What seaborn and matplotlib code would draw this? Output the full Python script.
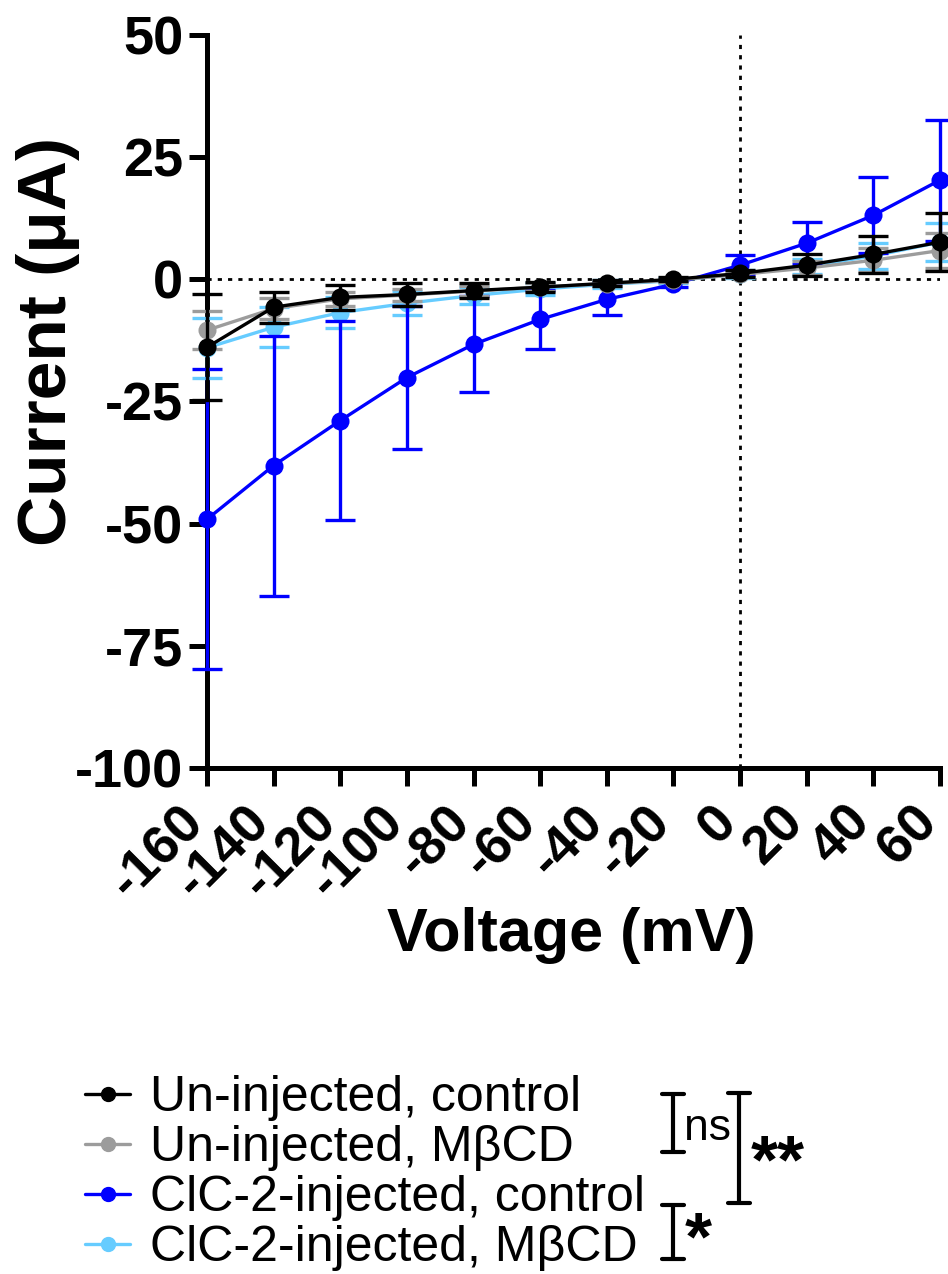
import numpy as np
import pandas as pd
import matplotlib
matplotlib.use("Agg")
import matplotlib.pyplot as plt
import matplotlib.transforms as mtransforms
import seaborn as sns
from matplotlib.lines import Line2D

# Data, current in uA, mean and SEM

voltage = [-160, -140, -120, -100, -80, -60, -40, -20, 0, 20, 40, 60]

uninj_ctrl = [-13.9, -5.7, -3.7, -3.1, -2.3, -1.6, -0.8, 0.0, 1.2, 2.9, 5.1, 7.6]
uninj_ctrl_sem = [10.8, 3.2, 2.6, 2.4, 1.5, 1.0, 0.6, 0.4, 0.8, 2.2, 3.8, 5.9]

uninj_mbcd = [-10.4, -6.0, -4.0, -3.2, -2.4, -1.6, -0.9, -0.2, 1.0, 2.3, 3.9, 5.9]
uninj_mbcd_sem = [3.9, 2.1, 1.5, 1.3, 1.0, 0.8, 0.5, 0.3, 0.6, 1.5, 2.5, 3.5]

clc2_ctrl = [-49.1, -38.1, -28.9, -20.1, -13.3, -8.2, -4.1, -1.0, 2.9, 7.4, 13.1, 20.3]
clc2_ctrl_sem = [30.7, 26.6, 20.4, 14.7, 9.8, 6.1, 3.3, 0.6, 2.0, 4.3, 7.8, 12.4]

clc2_mbcd = [-14.0, -9.8, -6.8, -4.9, -3.3, -2.0, -1.0, -0.3, 1.1, 2.6, 4.8, 7.6]
clc2_mbcd_sem = [6.1, 4.1, 3.2, 2.5, 1.8, 1.2, 0.8, 0.5, 0.8, 1.5, 2.6, 3.9]

groups = ["Un-injected, control", "Un-injected, MβCD",
          "ClC-2-injected, control", "ClC-2-injected, MβCD"]
colors = ["#000000", "#9C9C9C", "#0000FF", "#66CCFF"]
zorders = [6, 5, 4, 3]

yticks = [-100, -75, -50, -25, 0, 25, 50]

df = pd.DataFrame({
    "voltage": voltage * 4,
    "current": uninj_ctrl + uninj_mbcd + clc2_ctrl + clc2_mbcd,
    "sem": uninj_ctrl_sem + uninj_mbcd_sem + clc2_ctrl_sem + clc2_mbcd_sem,
    "group": np.repeat(groups, len(voltage)),
})

sns.set_style("ticks")
plt.rcParams['font.family'] = ['Liberation Sans', 'DejaVu Sans']
plt.rcParams.update({"text.color": "black", "axes.labelcolor": "black",
                     "xtick.color": "black", "ytick.color": "black",
                     "axes.edgecolor": "black"})

W, H = 948, 1274
fig = plt.figure(figsize=(W / 100, H / 100), dpi=100)
ax = fig.add_axes([207 / W, 1 - 768 / H, 733 / W, 733 / H])

# dotted zero lines
ax.axhline(0, color="black", lw=2, ls=(0, (1.5, 2.2)), zorder=1)
ax.axvline(0, color="black", lw=2, ls=(0, (1.5, 2.2)), zorder=1)

for g, c, z in zip(groups, colors, zorders):
    sub = df[df["group"] == g]
    eb = ax.errorbar(sub["voltage"], sub["current"], yerr=sub["sem"], fmt="none",
                     ecolor=c, elinewidth=2.4, capsize=11, capthick=2.4, zorder=z)
    for art in list(eb.lines[1]) + list(eb.lines[2]):
        art.set_clip_on(False)
    sns.lineplot(data=sub, x="voltage", y="current", color=c, marker="o",
                 markersize=13, markeredgewidth=0, linewidth=2.4, ax=ax,
                 zorder=z + 0.5, clip_on=False, legend=False)

ax.set_xlim(-160, 60)
ax.set_ylim(-100, 50)

sns.despine(ax=ax)
for s in ["left", "bottom"]:
    ax.spines[s].set_linewidth(3.6)
    ax.spines[s].set_zorder(2)

ax.set_yticks(yticks)
ax.set_yticklabels([str(v) for v in yticks], fontsize=39, fontweight="bold")
ax.set_xticks(voltage)
ax.set_xticklabels([str(v) for v in voltage], fontsize=39, fontweight="bold",
                   rotation=45, ha="right", va="center", rotation_mode="anchor")
ax.tick_params(axis="both", width=3.6, length=13, color="black")
ax.tick_params(axis="y", pad=4)
ax.tick_params(axis="x", pad=18)
shift = mtransforms.ScaledTranslation(-11 / 100, -3 / 100, fig.dpi_scale_trans)
for lab in ax.get_xticklabels():
    lab.set_transform(lab.get_transform() + shift)

ax.set_xlabel("Voltage (mV)", fontsize=44, fontweight="bold")
ax.set_ylabel("Current (μA)", fontsize=50, fontweight="bold")
ax.xaxis.set_label_coords(0.4966, -0.19)
ax.yaxis.set_label_coords(-0.173, 0.5825)

# legend
handles = [Line2D([], [], color=c, marker="o", markersize=10, lw=2.4) for c in colors]
fig.legend(handles, groups, loc="upper left", bbox_to_anchor=(85 / W, 1 - 1075 / H),
           frameon=False, fontsize=36, handlelength=0.9, handletextpad=0.4,
           labelspacing=0.08, borderpad=0, borderaxespad=0)


# significance brackets
def fx(x):
    return x / W


def fy(y):
    return 1 - y / H


def bracket(x, y0, y1, half=11):
    kw = dict(color="black", lw=3, solid_capstyle="round", transform=fig.transFigure)
    fig.add_artist(Line2D([fx(x), fx(x)], [fy(y0), fy(y1)], **kw))
    fig.add_artist(Line2D([fx(x - half), fx(x + half)], [fy(y0), fy(y0)], **kw))
    fig.add_artist(Line2D([fx(x - half), fx(x + half)], [fy(y1), fy(y1)], **kw))


bracket(673, 1094, 1152)
bracket(739, 1093, 1203)
bracket(673, 1205, 1259)
fig.text(fx(684), fy(1140), "ns", fontsize=32, ha="left", va="baseline")
fig.text(fx(751), fy(1182), "**", fontsize=50, fontweight="bold", ha="left", va="baseline")
fig.text(fx(685), fy(1259), "*", fontsize=50, fontweight="bold", ha="left", va="baseline")

fig.savefig("out.png", dpi=100)
